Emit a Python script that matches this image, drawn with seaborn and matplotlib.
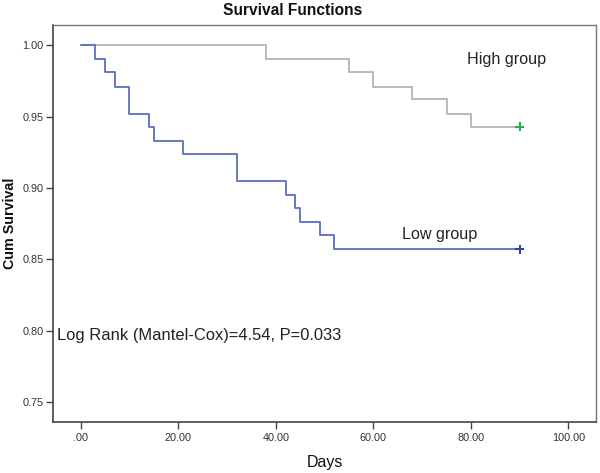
import matplotlib
matplotlib.use("Agg")
import matplotlib.pyplot as plt
import seaborn as sns
import pandas as pd

# Kaplan-Meier step data
high_days = [0, 38, 55, 60, 68, 75, 80, 90]
high_surv = [1.000, 0.990, 0.981, 0.971, 0.962, 0.952, 0.943, 0.943]
low_days = [0, 3, 5, 7, 10, 14, 15, 21, 32, 42, 44, 45, 49, 52, 90]
low_surv = [1.000, 0.990, 0.981, 0.971, 0.952, 0.943, 0.933, 0.924, 0.905,
            0.895, 0.886, 0.876, 0.867, 0.857, 0.857]
censor_days = [90, 90]
censor_surv = [0.943, 0.857]
censor_group = ["High group", "Low group"]

x_ticks = [0, 20, 40, 60, 80, 100]
x_tick_labels = [".00", "20.00", "40.00", "60.00", "80.00", "100.00"]
y_ticks = [0.75, 0.80, 0.85, 0.90, 0.95, 1.00]
y_tick_labels = ["0.75", "0.80", "0.85", "0.90", "0.95", "1.00"]

sns.set_style("white")
plt.rcParams["font.family"] = ["Liberation Sans", "DejaVu Sans"]

df = pd.concat([
    pd.DataFrame({"Days": high_days, "Surv": high_surv, "Group": "High group"}),
    pd.DataFrame({"Days": low_days, "Surv": low_surv, "Group": "Low group"}),
])
cens = pd.DataFrame({"Days": censor_days, "Surv": censor_surv, "Group": censor_group})

line_pal = {"High group": "#b4b4b4", "Low group": "#5a6ebe"}
cens_pal = {"High group": "#2ea84a", "Low group": "#34449a"}

fig = plt.figure(figsize=(6.0, 4.73), dpi=100)
ax = fig.add_axes([0.089, 0.1085, 0.904, 0.8385])

sns.lineplot(data=df, x="Days", y="Surv", hue="Group", palette=line_pal,
             estimator=None, sort=False, drawstyle="steps-post",
             linewidth=1.3, legend=False, ax=ax)
sns.scatterplot(data=cens, x="Days", y="Surv", hue="Group", palette=cens_pal,
                marker="+", s=45, linewidth=1.5, legend=False, ax=ax, zorder=5)

ax.set_xlim(-5.6, 105.6)
ax.set_ylim(0.7364, 1.014)
ax.set_xticks(x_ticks)
ax.set_xticklabels(x_tick_labels)
ax.set_yticks(y_ticks)
ax.set_yticklabels(y_tick_labels)
ax.tick_params(axis="both", which="major", direction="out", length=5, width=1.0,
               color="#444444", labelsize=7.8, labelcolor="#333333", pad=2,
               left=True, bottom=True)
ax.tick_params(axis="x", pad=3)

for side in ["left", "bottom"]:
    ax.spines[side].set_color("#444444")
    ax.spines[side].set_linewidth(1.2)
for side in ["top", "right"]:
    ax.spines[side].set_color("#777777")
    ax.spines[side].set_linewidth(1.0)

ax.set_xlabel("Days", fontsize=11.5, color="#111111", labelpad=9)
ax.set_ylabel("Cum Survival", fontsize=10.3, fontweight="bold", color="#111111", labelpad=4)
fig.text(0.488, 0.978, "Survival Functions", ha="center", va="center",
         fontsize=11.2, fontweight="bold", color="#111111")

ax.text(79.2, 0.9865, "High group", fontsize=11.6, color="#222222", va="baseline", ha="left")
ax.text(65.8, 0.8646, "Low group", fontsize=11.6, color="#222222", va="baseline", ha="left")
ax.text(-4.8, 0.7938, "Log Rank (Mantel-Cox)=4.54, P=0.033", fontsize=11.9,
        color="#222222", va="baseline", ha="left")

fig.savefig("out.png", dpi=100)
